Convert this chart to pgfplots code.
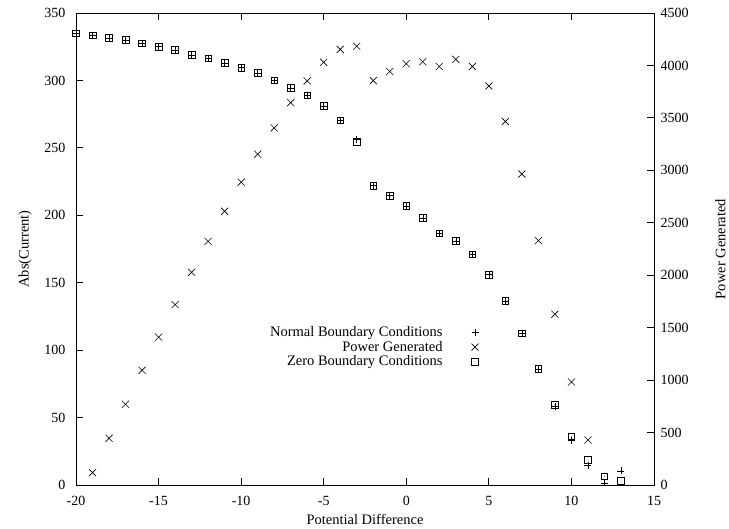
\documentclass[border=0pt]{standalone}
\usepackage{fontspec}
\setmainfont{Liberation Serif}
\usepackage{pgfplots}
\usepackage{pgfplotstable}
\pgfplotsset{compat=1.18}

% open square with a small dot in its centre
\pgfdeclareplotmark{dotsquare}{%
  \pgfpathrectangle{\pgfqpoint{-\pgfplotmarksize}{-\pgfplotmarksize}}%
                   {\pgfqpoint{2\pgfplotmarksize}{2\pgfplotmarksize}}%
  \pgfusepathqstroke
  \pgfpathcircle{\pgfpointorigin}{0.35bp}%
  \pgfusepathqfill
}

% current with normal boundary conditions
\pgfplotstableread{
V I
-20 335
-19 333.5
-18 331.5
-17 330
-16 327.5
-15 325
-14 322.5
-13 319
-12 316.5
-11 313
-10 309.5
-9 305.5
-8 300
-7 294.5
-6 289
-5 281
-4 270.5
-3 256
-2 222
-1 214.5
0 207
1 198
2 186.5
3 181
4 171
5 156
6 136.5
7 112.5
8 86
9 58
10 33
11 14.5
12 1.5
13 10.5
}\normalbc

% current with zero boundary conditions
\pgfplotstableread{
V I
-20 335
-19 333.5
-18 331.5
-17 330
-16 327.5
-15 325
-14 322.5
-13 319
-12 316.5
-11 313
-10 309.5
-9 305.5
-8 300
-7 294.5
-6 289
-5 281
-4 270.5
-3 254.5
-2 222
-1 214.5
0 207
1 198
2 186.5
3 181
4 171
5 156
6 136.5
7 112.5
8 86
9 59.5
10 36
11 18.5
12 6.5
13 3
}\zerobc

% power generated
\pgfplotstableread{
V P
-19 118
-18 445
-17 770
-16 1093
-15 1410
-14 1720
-13 2028
-12 2323
-11 2610
-10 2887
-9 3154
-8 3404
-7 3645
-6 3852
-5 4030
-4 4153
-3 4183
-2 3855
-1 3942
0 4016
1 4035
2 3990
3 4057
4 3990
5 3804
6 3466
7 2965
8 2330
9 1628
10 982
11 429
}\power

\pgfplotsset{
  gp/.style={
    at={(0,0)}, anchor=south west,
    scale only axis, width=578bp, height=472bp,
    xmin=-20, xmax=15,
    clip=false,
    tick align=inside,
    major tick length=7bp,
    axis line style={line width=0.9bp},
    every tick/.style={black, line width=0.9bp},
    tick label style={font=\fontsize{14bp}{16bp}\selectfont},
    /pgf/number format/assume math mode=true,
    /pgf/number format/1000 sep={},
    scaled ticks=false,
  },
}

\begin{document}
\begin{tikzpicture}[font=\fontsize{14.5bp}{17bp}\selectfont]
\useasboundingbox (-76bp,-44bp) rectangle (653bp,485bp);

\begin{axis}[
  gp,
  ymin=0, ymax=350,
  xtick={-20,-15,...,15},
  ytick={0,50,...,350},
  xtick pos=both, ytick pos=left,
  xticklabel style={yshift=-8bp},
  yticklabel style={xshift=-7bp},
  xlabel={Potential Difference},
  ylabel={Abs(Current)},
  xlabel style={at={(axis description cs:0.5,-0.072)}, anchor=center},
  ylabel style={at={(axis description cs:-0.088,0.5)}, anchor=center},
  legend cell align=right,
  legend plot pos=right,
  legend style={draw=none, fill=none, at={(axis description cs:0.702,0.343)},
    anchor=north east, column sep=27bp,
    nodes={inner ysep=1.5bp}},
]
\addplot[black, only marks, mark=+, mark size=3.5bp, mark options={line width=0.6bp}]
  table[x=V, y=I] {\normalbc};
\addlegendentry{Normal Boundary Conditions}
\addlegendimage{black, only marks, mark=x, mark size=5bp, mark options={line width=0.6bp}}
\addlegendentry{Power Generated}
\addplot[black, only marks, mark=dotsquare, mark size=3.3bp, mark options={line width=0.6bp}]
  table[x=V, y=I] {\zerobc};
\addlegendentry{Zero Boundary Conditions}
\end{axis}

\begin{axis}[
  gp,
  ymin=0, ymax=4500,
  hide x axis,
  ytick={0,500,...,4500},
  ytick pos=right, yticklabel pos=right,
  yticklabel style={xshift=3bp},
  ylabel={Power Generated},
  ylabel style={at={(axis description cs:1.115,0.5)}, anchor=center, rotate=0},
]
\addplot[black, only marks, mark=x, mark size=5bp, mark options={line width=0.6bp}]
  table[x=V, y=P] {\power};
\end{axis}
\end{tikzpicture}
\end{document}
